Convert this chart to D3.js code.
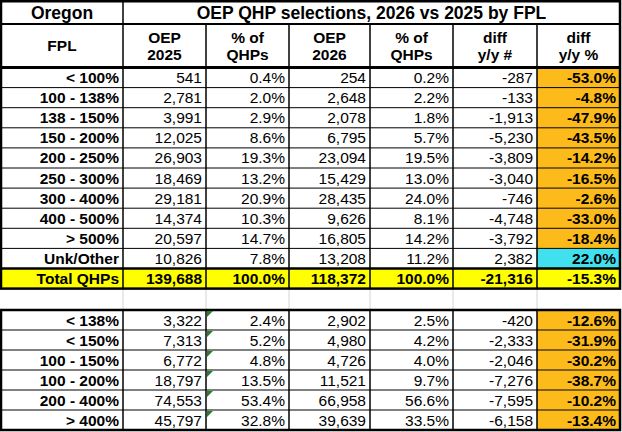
<!DOCTYPE html>
<html>
<head>
<meta charset="utf-8">
<script src="https://cdn.jsdelivr.net/npm/d3@7"></script>
<style>
  html, body { margin: 0; padding: 0; background: #fff; }
  svg { display: block; }
  text { font-family: "Liberation Sans", Arial, sans-serif; fill: #000; }
</style>
</head>
<body>
<div id="chart"></div>
<script>
// table data
const stateName = "Oregon";
const title = "OEP QHP selections, 2026 vs 2025 by FPL";
const headers = [["FPL"], ["OEP", "2025"], ["% of", "QHPs"], ["OEP", "2026"], ["% of", "QHPs"], ["diff", "y/y #"], ["diff", "y/y %"]];

const fplTop = ["< 100%", "100 - 138%", "138 - 150%", "150 - 200%", "200 - 250%", "250 - 300%", "300 - 400%", "400 - 500%", "> 500%", "Unk/Other"];
const oep2025Top = [541, 2781, 3991, 12025, 26903, 18469, 29181, 14374, 20597, 10826];
const pct2025Top = [0.4, 2.0, 2.9, 8.6, 19.3, 13.2, 20.9, 10.3, 14.7, 7.8];
const oep2026Top = [254, 2648, 2078, 6795, 23094, 15429, 28435, 9626, 16805, 13208];
const pct2026Top = [0.2, 2.2, 1.8, 5.7, 19.5, 13.0, 24.0, 8.1, 14.2, 11.2];
const diffNumTop = [-287, -133, -1913, -5230, -3809, -3040, -746, -4748, -3792, 2382];
const diffPctTop = [-53.0, -4.8, -47.9, -43.5, -14.2, -16.5, -2.6, -33.0, -18.4, 22.0];

const totalRow = ["Total QHPs", 139688, 100.0, 118372, 100.0, -21316, -15.3];

const fplBottom = ["< 138%", "< 150%", "100 - 150%", "100 - 200%", "200 - 400%", "> 400%"];
const oep2025Bottom = [3322, 7313, 6772, 18797, 74553, 45797];
const pct2025Bottom = [2.4, 5.2, 4.8, 13.5, 53.4, 32.8];
const oep2026Bottom = [2902, 4980, 4726, 11521, 66958, 39639];
const pct2026Bottom = [2.5, 4.2, 4.0, 9.7, 56.6, 33.5];
const diffNumBottom = [-420, -2333, -2046, -7276, -7595, -6158];
const diffPctBottom = [-12.6, -31.9, -30.2, -38.7, -10.2, -13.4];

const width = 622, height = 432;
const colEdge = [1, 123, 206, 289, 370, 453, 537, 620];
const fontSize = 15.5;

const loc = d3.formatLocale({ decimal: ".", thousands: ",", grouping: [3], currency: ["$", ""], minus: "-" });
const fmtNum = loc.format(",");
const fmtPct = v => loc.format(".1f")(v) + "%";
const colFmt = [d => d, fmtNum, fmtPct, fmtNum, fmtPct, fmtNum, fmtPct];

// row scales: top block (10 rows + total), bottom block (6 rows)
const yTop = d3.scaleLinear().domain([0, 10]).range([67.5, 268.5]);
const yBot = d3.scaleLinear().domain([0, 6]).range([310, 430]);
const rowH = yTop(1) - yTop(0);

const svg = d3.select("#chart").append("svg")
  .attr("width", width)
  .attr("height", height);

function buildRows(labels, cols) {
  return labels.map((l, i) => [l].concat(cols.map(c => c[i])));
}
const topRows = buildRows(fplTop, [oep2025Top, pct2025Top, oep2026Top, pct2026Top, diffNumTop, diffPctTop]);
const bottomRows = buildRows(fplBottom, [oep2025Bottom, pct2025Bottom, oep2026Bottom, pct2026Bottom, diffNumBottom, diffPctBottom]);

const fillOf = v => v < 0 ? "#fdbb1b" : "#40e0ee";

// cell fills
const fills = svg.append("g");
topRows.forEach((r, i) => {
  fills.append("rect")
    .attr("x", colEdge[6]).attr("y", yTop(i))
    .attr("width", colEdge[7] - colEdge[6]).attr("height", rowH)
    .attr("fill", fillOf(r[6]));
});
fills.append("rect")
  .attr("x", colEdge[0]).attr("y", yTop(10))
  .attr("width", colEdge[7] - colEdge[0]).attr("height", rowH)
  .attr("fill", "#ffff00");
bottomRows.forEach((r, i) => {
  fills.append("rect")
    .attr("x", colEdge[6]).attr("y", yBot(i))
    .attr("width", colEdge[7] - colEdge[6]).attr("height", yBot(1) - yBot(0))
    .attr("fill", fillOf(r[6]));
});

// grid lines
const grid = svg.append("g").attr("stroke", "#000").attr("fill", "none");
const hline = (y, w, x0 = colEdge[0], x1 = colEdge[7]) =>
  grid.append("line").attr("x1", x0).attr("x2", x1).attr("y1", y).attr("y2", y).attr("stroke-width", w);
const vline = (x, y0, y1, w, c = "#000") =>
  grid.append("line").attr("x1", x).attr("x2", x).attr("y1", y0).attr("y2", y1).attr("stroke-width", w).attr("stroke", c);

d3.range(1, 10).forEach(i => hline(yTop(i), 1));
d3.range(1, 6).forEach(i => hline(yBot(i), 1));
colEdge.slice(1, 7).forEach(x => {
  vline(x, x === colEdge[1] ? 1 : 24, yTop(11), 1.5);
  vline(x, yTop(11), yBot(0), 1, "#d4d4d4");
  vline(x, yBot(0), yBot(6), 1.5);
});
hline(24, 2);
hline(yTop(0), 3);
hline(yTop(10), 2.5);
grid.append("rect")
  .attr("x", colEdge[0]).attr("y", 1.25)
  .attr("width", colEdge[7] - colEdge[0]).attr("height", yTop(11) - 1.25)
  .attr("stroke-width", 2.5);
grid.append("rect")
  .attr("x", colEdge[0]).attr("y", yBot(0))
  .attr("width", colEdge[7] - colEdge[0]).attr("height", yBot(6) - yBot(0))
  .attr("stroke-width", 2.5);

// excel warning triangles in the bottom block
svg.append("g").selectAll("path")
  .data(bottomRows)
  .join("path")
  .attr("d", (d, i) => {
    const x = colEdge[2] + 1, y = yBot(i) + 1;
    return `M${x},${y}L${x + 6},${y}L${x},${y + 6}Z`;
  })
  .attr("fill", "#2a7d2e");

// title row
svg.append("text")
  .attr("x", (colEdge[0] + colEdge[1]) / 2).attr("y", 19)
  .attr("text-anchor", "middle").attr("font-weight", "bold").attr("font-size", 17.5)
  .text(stateName);
svg.append("text")
  .attr("x", (colEdge[1] + colEdge[7]) / 2).attr("y", 19)
  .attr("text-anchor", "middle").attr("font-weight", "bold").attr("font-size", 17.5)
  .text(title);

// header row
headers.forEach((lines, c) => {
  const cx = (colEdge[c] + colEdge[c + 1]) / 2;
  const t = svg.append("text")
    .attr("text-anchor", "middle").attr("font-weight", "bold").attr("font-size", fontSize);
  const y0 = lines.length === 1 ? 51 : 42.5;
  lines.forEach((s, k) => {
    t.append("tspan").attr("x", cx).attr("y", y0 + k * 17.5).text(s);
  });
});

// body rows
function drawRows(rows, yScale, boldAll) {
  const g = svg.append("g").attr("font-size", fontSize).attr("text-anchor", "end");
  rows.forEach((r, i) => {
    const yc = (yScale(i) + yScale(i + 1)) / 2 + 5.5;
    r.forEach((v, c) => {
      g.append("text")
        .attr("x", colEdge[c + 1] - 4)
        .attr("y", yc)
        .attr("font-weight", boldAll || c === 0 || c === 6 ? "bold" : "normal")
        .text(colFmt[c](v));
    });
  });
}
drawRows(topRows, yTop, false);
drawRows([totalRow], i => yTop(10 + i), true);
drawRows(bottomRows, yBot, false);
</script>
</body>
</html>
